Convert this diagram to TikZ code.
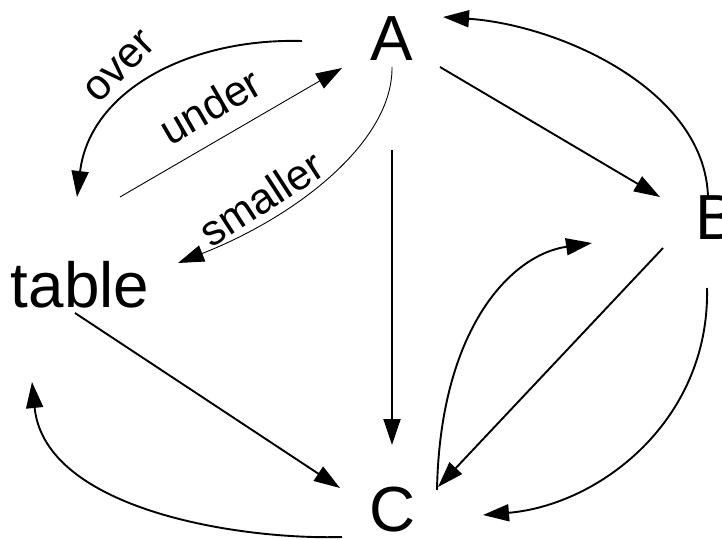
\documentclass[tikz,border=0pt]{standalone}
\usepackage{fontspec}
\setmainfont{Liberation Sans}
\usetikzlibrary{arrows.meta,calc}
\tikzset{
  vertex/.style={inner sep=0pt, font=\fontsize{64}{64}\selectfont},
  lbl/.style={inner sep=0pt, font=\fontsize{43}{43}\selectfont},
  thickedge/.style={line width=1.9bp, -{Triangle[length=26bp,width=17bp]}},
  thinedge/.style={line width=0.9bp, -{Triangle[length=26bp,width=17bp]}}
}
\begin{document}
\begin{tikzpicture}[x=1bp,y=-1bp]
\useasboundingbox[fill=white] (0,0) rectangle (722,540);
\node[vertex] (A) at (392,39) {A};
\node[vertex] (B) at (717,218) {B};
\node[vertex] (T) at (80,285) {table};
\node[vertex] (C) at (393,510) {C};

% A -> table (over)
\draw[thickedge] ($(A)+(-90,2)$) .. controls ($(A)+(-202,-1)$) and ($(T)+(10,-195)$) .. ($(T)+(-3,-88)$);
\node[lbl, rotate=45] (over) at (120,67) {over};
% table -> A (under)
\draw[thinedge] ($(T)+(40,-88)$) -- ($(A)+(-50,29)$);
\node[lbl, rotate=30] (under) at (210,106) {under};
% A -> table (smaller)
\draw[thinedge] ($(A)+(0,28)$) .. controls ($(A)+(1,101)$) and ($(T)+(220,-70)$) .. ($(T)+(98,-22)$);
\node[lbl, rotate=33] (smaller) at (261,198) {smaller};
% A -> C
\draw[thickedge] ($(A)+(0,111)$) -- ($(A |- C)+(0,-65)$);
% A -> B
\draw[thickedge] ($(A)+(48,28)$) -- ($(B)+(-57,-21)$);
% B -> A
\draw[thickedge] ($(B)+(-9,-21)$) .. controls ($(B)+(-12,-128)$) and ($(A)+(168,-14)$) .. ($(A)+(51,-22)$);
% B -> C
\draw[thickedge] ($(B)+(-54,30)$) -- ($(C)+(45,-23)$);
% C -> B
\draw[thickedge] ($(C)+(44,-20)$) .. controls ($(C)+(47,-180)$) and ($(B)+(-207,37)$) .. ($(B)+(-125,25)$);
% B -> C (right)
\draw[thickedge] ($(B)+(-10,70)$) .. controls ($(B)+(-7,202)$) and ($(C)+(207,-5)$) .. ($(C)+(90,5)$);
% table -> C
\draw[thickedge] ($(T)+(-5,28)$) -- ($(C)+(-53,-22)$);
% C -> table
\draw[thickedge] ($(C)+(-51,27)$) .. controls ($(C)+(-153,30)$) and ($(T)+(-35,225)$) .. ($(T)+(-48,97)$);
\end{tikzpicture}
\end{document}
